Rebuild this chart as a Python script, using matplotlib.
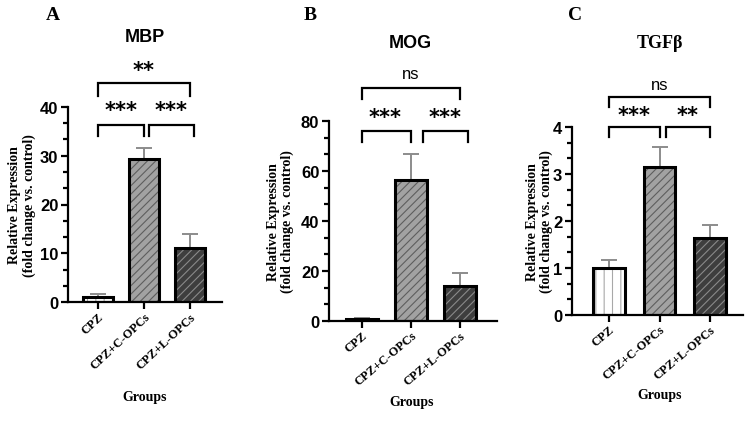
import numpy as np
import matplotlib
matplotlib.use("Agg")
import matplotlib.pyplot as plt
from matplotlib.ticker import AutoMinorLocator

plt.rcParams['hatch.linewidth'] = 0.8

groups = ["CPZ", "CPZ+C-OPCs", "CPZ+L-OPCs"]

# panel A - MBP
mbp_mean = [1.0, 29.3, 11.0]
mbp_err = [0.6, 2.3, 2.9]
# panel B - MOG
mog_mean = [0.7, 56.3, 14.1]
mog_err = [0.4, 10.4, 5.1]
# panel C - TGFb
tgf_mean = [0.99, 3.15, 1.64]
tgf_err = [0.19, 0.43, 0.27]

W, H = 750, 431

def fx(px):
    return px / W

def fy(py):
    return 1 - py / H

sans = "Liberation Sans"
serif = "Liberation Serif"

face = ["white", "#a2a2a2", "#3e3e3e"]
hatchcol = ["#a8a8a8", "#5e5e5e", "#8a8a8a"]
hatches = ["||", "////", "////"]


def bracket(ax, x1, x2, ytop, ylow):
    ax.plot([x1, x1, x2, x2], [ylow, ytop, ytop, ylow], color="black", lw=1.6,
            clip_on=False, solid_joinstyle="miter")


def stars(ax, x, y, s):
    if s == "ns":
        ax.text(x, y, s, ha="center", va="center", fontsize=12, family=sans,
                clip_on=False)
    else:
        ax.text(x, y, s, ha="center", va="center", fontsize=15, family="DejaVu Sans",
                fontweight="bold", clip_on=False)


def panel(box, xlim, ylim, step, means, errs, width, ylab_x, rot):
    left, right, bottom, top = box
    ax = fig.add_axes([fx(left), fy(bottom), fx(right - left), fy(top) - fy(bottom)])
    x = np.arange(3)
    ax.errorbar(x, means, yerr=[[0, 0, 0], errs], fmt="none", ecolor="#8c8c8c",
                elinewidth=1.4, capsize=6, capthick=1.4, zorder=1, clip_on=False)
    for i in range(3):
        ax.bar(x[i], means[i], width=width, color=face[i], edgecolor=hatchcol[i],
               hatch=hatches[i], linewidth=0, zorder=2)
        ax.bar(x[i], means[i], width=width, fill=False, edgecolor="black",
               linewidth=2.2, zorder=3)
    ax.set_xlim(*xlim)
    ax.set_ylim(*ylim)
    ax.set_yticks(np.arange(ylim[0], ylim[1] + step / 2, step))
    ax.yaxis.set_minor_locator(AutoMinorLocator(3))
    ax.spines[["top", "right"]].set_visible(False)
    ax.spines[["left", "bottom"]].set_linewidth(1.6)
    ax.tick_params(axis="y", which="major", length=5, width=1.6, pad=2)
    ax.tick_params(axis="y", which="minor", length=3.5, width=1.6)
    ax.tick_params(axis="x", length=5, width=1.6, pad=1)
    for t in ax.get_yticklabels():
        t.set_family(sans)
        t.set_fontweight("bold")
        t.set_fontsize(12)
    ax.set_xticks(x)
    ax.set_xticklabels(groups, rotation=rot, ha="right", rotation_mode="anchor",
                       family=serif, fontweight="bold", fontsize=9)
    ax.set_ylabel("Relative Expression\n(fold change vs. control)", family=serif,
                  fontweight="bold", fontsize=10, linespacing=1.1)
    ax.yaxis.set_label_coords(ylab_x, 0.5)
    ax.yaxis.label.set_verticalalignment("center")
    return ax


fig = plt.figure(figsize=(7.5, 4.31), dpi=100)

# A
axA = panel((68, 222, 303, 108), (-0.65, 2.7), (0, 40), 10, mbp_mean, mbp_err, 0.65, -0.30, 43)
bracket(axA, 0, 1.0, 36.3, 34.0)
bracket(axA, 1.12, 2.1, 36.3, 34.0)
bracket(axA, 0, 2.0, 44.9, 42.3)
stars(axA, 0.5, 39.4, "***")
stars(axA, 1.6, 39.4, "***")
stars(axA, 1.0, 47.6, "**")

# B
axB = panel((329, 497, 322, 122), (-0.67, 2.76), (0, 80), 20, mog_mean, mog_err, 0.65, -0.29, 40)
bracket(axB, 0, 1.0, 76.0, 71.6)
bracket(axB, 1.25, 2.16, 76.0, 71.6)
bracket(axB, 0, 2.0, 93.2, 88.8)
stars(axB, 0.47, 81.5, "***")
stars(axB, 1.7, 81.5, "***")
stars(axB, 1.0, 99.0, "ns")

# C
axC = panel((572, 743, 316, 128), (-0.73, 2.65), (0, 4), 1, tgf_mean, tgf_err, 0.62, -0.19, 40)
bracket(axC, 0, 1.0, 4.0, 3.79)
bracket(axC, 1.13, 2.0, 4.0, 3.79)
bracket(axC, 0, 2.0, 4.64, 4.43)
stars(axC, 0.5, 4.26, "***")
stars(axC, 1.56, 4.26, "**")
stars(axC, 1.0, 4.91, "ns")

# titles and panel letters
fig.text(fx(145), fy(37), "MBP", ha="center", va="center", family=sans,
         fontweight="bold", fontsize=13)
fig.text(fx(410), fy(43), "MOG", ha="center", va="center", family=sans,
         fontweight="bold", fontsize=13)
fig.text(fx(660), fy(43), "TGFβ", ha="center", va="center", family=serif,
         fontweight="bold", fontsize=13)
for lx, lt in [(53, "A"), (310, "B"), (575, "C")]:
    fig.text(fx(lx), fy(15), lt, ha="center", va="center", family=serif,
             fontweight="bold", fontsize=14)

# x axis titles
for gx, gy in [(145, 398), (412, 403), (660, 396)]:
    fig.text(fx(gx), fy(gy), "Groups", ha="center", va="center", family=serif,
             fontweight="bold", fontsize=10)

fig.savefig("out.png", dpi=100)
